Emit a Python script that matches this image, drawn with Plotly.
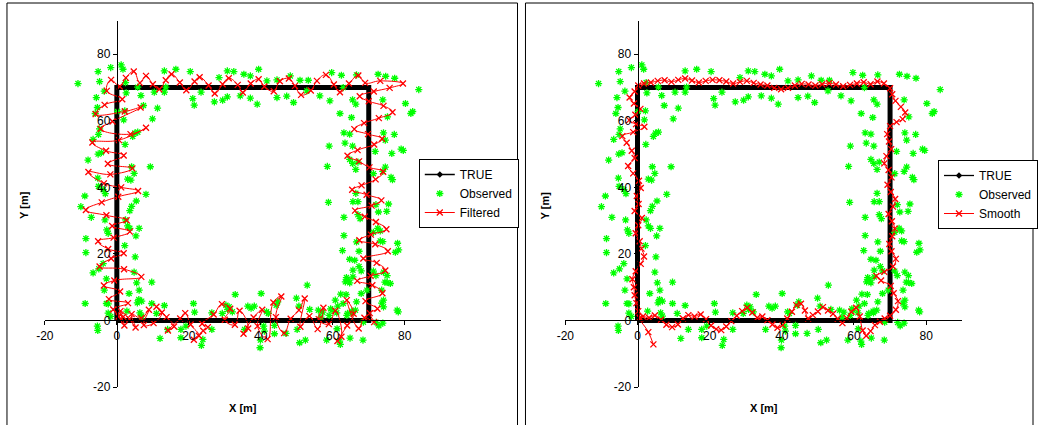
import plotly.graph_objects as go

# ---------------- data ----------------
TRUE_X = [0, 70, 70, 0, 0]
TRUE_Y = [0, 0, 70, 70, 0]

OBS_X = [
    -10.8, -5.2, -1.7, 1.2, 1.7, -4.8, 2.4, 13.2, 16.4, 20.4, 28.4, 30.7, 32.5, 35.3, 37.1, 39.4, 41.7, 44.5,
    48.2, 50.9, 53.2, 59.7, 62.4, 66.6, 72.6, 74.7, 77.2, 83.9, 80.2, 82.2, 73.9, 75.2, 62.9, 65.5, 66.4, 62.0,
    65.2, 59.2, 56.4, 52.8, 49.1, 47.2, 44.5, 39.0, 37.1, 34.3, 30.7, 29.4, 27.1, 23.4, 21.1, 21.5, 13.2, 13.6,
    10.4, 6.7, 7.4, 11.3, 9.9, 5.8, 2.6, -5.7, -5.4, -6.0, -3.5, 1.9, 2.2, 0.2,
    -6.6, -4.8, -5.1, -4.3, -5.2, -8.0, 2.3, 5.0, 5.8, 4.4, 9.3, 4.1, 4.8, 3.9, 3.0, -5.3, -5.1, -8.9, -10.0,
    -7.1, -3.2, -3.8, 5.4, 8.1, 4.1, 3.6, 2.4, 3.0, 3.6, 6.2, 5.3, -2.4, -2.8, -3.3, -8.6, -8.6, 2.2, 5.1,
    -3.8, -5.0, -6.6, 4.8, -2.9, 9.7, 5.5, 6.2, 3.4, -3.5, 6.1, 6.9, 5.7, 9.7, -2.9, -8.8, 13.2, -2.4, -1.7,
    -5.3,
    63.1, 64.7, 63.4, 59.0, 65.5, 74.1, 74.6, 77.1, 79.0, 76.4, 71.8, 64.7, 65.5, 67.0, 66.4, 58.5, 74.6, 73.9,
    76.2, 76.6, 71.3, 66.4, 67.0, 65.6, 58.8, 75.5, 75.0, 72.0, 72.7, 67.0, 67.6, 63.1, 72.5, 73.2, 71.3, 73.2,
    73.9, 63.1, 78.0, 77.4, 78.3, 62.7, 66.6, 67.3, 64.7, 66.1, 65.6, 67.9, 67.3, 71.3, 72.0, 75.1, 63.8, 64.3,
    64.7, 75.1, 76.0, 69.5, 73.6, 62.2, 74.1, 60.7, 61.4, 59.8, 66.3, 65.4, 77.9, 64.1, 72.1, 73.9, 72.8, 56.0,
    81.7, 79.6,
    -5.4, -2.4, 2.8, 6.4, 6.9, 11.0, 14.1, 17.8, 12.0, 21.3, 21.6, 19.2, 17.8, 26.4, 26.4, 23.9, 23.5, 30.3,
    31.2, 30.8, 32.1, 32.9, 29.3, 36.4, 38.2, 37.3, 35.5, 40.8, 41.0, 39.9, 40.1, 39.8, 41.6, 42.1, 43.8, 43.8,
    44.7, 44.3, 47.0, 49.9, 50.1, 50.6, 52.4, 50.8, 52.9, 53.6, 57.2, 56.7, 58.3, 59.4, 59.0, 61.1, 61.9, 62.1,
    61.2, 62.9, 63.7, 64.8, 63.5, 65.6, 65.3, 63.9, 68.5, 68.4, 73.6, 74.1, 78.2, 74.5, 74.1, 67.9, 66.6,
]
OBS_Y = [
    71.2, 74.8, 76.0, 76.8, 75.5, 71.8, 71.5, 75.0, 75.5, 74.8, 73.0, 75.0, 74.8, 74.0, 73.5, 75.5, 72.0, 72.3,
    73.5, 72.2, 72.2, 74.5, 73.7, 73.8, 74.0, 73.4, 72.8, 69.4, 65.2, 62.8, 66.3, 61.2, 70.0, 66.3, 65.0, 62.2,
    61.0, 66.0, 67.5, 69.0, 65.5, 67.4, 67.0, 65.0, 66.8, 67.5, 67.2, 66.2, 65.7, 68.6, 66.7, 64.7, 68.6, 70.1,
    68.6, 67.6, 64.6, 63.8, 60.6, 70.1, 68.4, 67.0, 64.0, 62.2, 68.9, 60.3, 63.0, 62.8,
    54.4, 57.6, 55.9, 50.4, 50.0, 48.2, 52.9, 56.3, 56.6, 55.3, 46.2, 46.2, 44.2, 42.2, 42.5, 42.8, 40.3, 37.4,
    34.2, 31.0, 38.1, 39.3, 35.9, 37.9, 34.3, 33.0, 30.2, 28.4, 27.7, 27.7, 25.4, 26.2, 27.2, 30.2, 24.6, 20.4,
    22.5, 19.1, 17.1, 15.5, 14.3, 14.5, 12.5, 11.5, 11.3, 9.1, 8.1, 9.1, 6.3, 5.8, 5.3, 5.1, 5.1, 5.1, 4.5, 2.2,
    1.2, -3.0,
    56.4, 56.0, 53.3, 52.4, 52.4, 56.4, 54.2, 55.9, 51.5, 50.2, 50.8, 48.4, 47.2, 47.6, 45.4, 46.3, 46.1, 44.8,
    43.0, 42.3, 44.1, 38.2, 35.7, 35.7, 35.5, 35.0, 32.8, 34.8, 32.6, 31.8, 30.6, 31.0, 27.7, 26.9, 26.5, 23.9,
    23.7, 25.5, 23.2, 20.5, 21.2, 21.0, 23.6, 20.8, 18.4, 18.1, 15.1, 14.9, 16.2, 14.8, 13.5, 13.5, 12.9, 12.1,
    11.3, 11.4, 11.1, 9.1, 9.1, 7.9, 6.1, 6.1, 4.3, 3.1, 3.1, 2.3, 3.1, 2.1, -0.6, -0.8, -1.6, 3.1,
    62.2, 51.1,
    -1.7, 5.0, 2.8, 2.3, 1.3, 2.1, -2.7, -5.2, -5.4, 5.1, 2.5, -1.7, -2.7, 2.3, -2.7, -5.7, -7.5, 4.6,
    4.1, 3.3, 2.6, 7.8, 2.1, 4.3, 4.3, 3.7, -2.7, -1.7, -3.2, -5.9, 8.1, -8.2, 2.6, 2.1, -1.5, -4.0,
    5.6, 4.6, -3.9, 6.7, -2.7, 4.3, -5.9, -6.7, 10.6, 3.3, 2.5, 1.0, -5.9, 3.5, 1.5, 2.3, -6.2, -7.2,
    -2.5, 5.1, 7.8, -5.3, 11.6, 13.1, 2.8, 1.5, -0.5, -5.9, 5.2, 4.1, 2.6, 11.5, 14.5, 8.1, 5.6,
]

FILT_X = [
    0.5, 2.1, 1.0, 3.5, 5.2, 4.1, 6.8, 8.9, 7.5, 10.2, 12.5, 11.0, 13.8, 15.9, 14.2, 17.6, 19.0, 20.5, 22.8,
    21.4, 24.0, 25.3, 23.7, 26.9, 29.2, 31.5, 30.0, 32.8, 34.1, 36.5, 35.2, 38.0, 40.4, 39.1, 41.9, 43.5, 45.7,
    44.2, 46.5, 48.3, 50.6, 52.2, 51.0, 53.5, 55.8, 57.4, 56.1, 58.9, 60.7, 62.4, 61.3, 64.0, 65.8, 63.9, 67.2,
    68.8, 71.5, 70.3,
    72.4, 69.1, 73.8, 71.0, 66.8, 70.5, 74.6, 72.2, 68.5, 75.3, 71.8, 67.4, 70.6, 74.9, 72.0, 68.9, 66.2, 70.8,
    73.5, 69.4, 65.4, 68.0, 71.9, 74.0, 70.2, 67.3, 64.1, 66.9, 71.5, 73.7, 69.8, 66.0, 68.7, 72.8, 76.6, 74.1,
    70.0, 67.5, 71.4, 75.8, 79.5, 73.2, 69.0,
    67.1, 64.5, 62.0, 60.3, 58.1, 55.6, 53.9, 51.2, 49.5, 47.8, 45.3, 43.6, 41.0, 39.4, 37.2, 35.0, 33.6, 31.1,
    29.4, 27.2, 25.5, 23.0, 21.6, 19.3, 17.5, 15.2, 13.6, 11.8, 10.0, 8.1, 6.4, 4.7, 2.5, 0.8, -1.6, -2.8,
    1.5, -3.4, -5.9, 2.2, 6.6, -1.2, -4.5, 3.8, 8.1, 0.6, -6.8, -3.0, 1.9, -2.5, 4.3, -1.8, -7.9, -3.6, 1.2,
    5.9, 0.4, -4.2, -8.6, -2.9, 2.7, -1.3, 3.6, -0.9, -5.2, -2.4, 1.9, -1.6, -4.8, 2.0, 6.8, -0.7, -3.6, 0.9,
    -2.2, 3.1, -1.0, 1.8,
]
FILT_Y = [
    1.2, -1.5, 2.8, 0.4, -2.1, 1.9, 0.7, 3.2, -1.4, -0.8, 2.4, 4.1, 1.0, -1.8, -3.0, 0.6, 2.2, -1.2, -4.6,
    -5.8, -3.1, -2.0, -1.0, 1.8, 4.9, 3.5, 0.2, -1.3, 2.9, -2.4, -4.0, 0.9, 3.2, -1.7, -5.6, 5.4, 7.2,
    1.0, -3.8, 0.5, 3.1, 6.6, -1.9, 1.3, -2.6, 3.8, 0.4, -1.1, 2.9, -4.9, -6.2, -1.5, 2.0, 6.1, -2.4,
    0.8, -0.5, 2.2,
    3.5, 5.8, 8.2, 10.6, 11.9, 13.4, 15.0, 17.3, 18.6, 20.8, 22.9, 24.1, 25.8, 27.4, 29.6, 31.2, 33.0, 34.5,
    36.1, 37.8, 39.3, 40.6, 42.4, 44.7, 46.0, 47.8, 49.5, 51.2, 52.9, 54.6, 56.0, 57.5, 59.3, 60.8, 62.6, 64.5,
    65.9, 67.4, 68.8, 69.9, 71.2, 72.0, 71.4,
    73.6, 71.2, 68.6, 70.9, 73.8, 72.0, 69.1, 67.8, 70.5, 72.7, 71.9, 68.9, 70.3, 72.5, 71.2, 68.5, 70.8, 72.8,
    71.0, 68.2, 70.6, 73.1, 71.8, 69.2, 71.5, 74.0, 72.2, 69.5, 71.0, 73.5, 71.4, 74.8, 72.9, 70.3, 72.3, 69.0,
    66.5, 64.8, 62.0, 62.8, 64.0, 59.8, 57.6, 56.0, 57.9, 54.2, 53.5, 51.0, 49.6, 47.1, 45.7, 43.9, 44.6, 41.2,
    40.0, 38.9, 37.2, 35.5, 33.2, 31.6, 30.1, 28.4, 26.7, 24.9, 23.8, 21.5, 20.2, 18.6, 16.2, 15.4, 13.1, 12.0,
    10.5, 8.7, 6.4, 5.2, 3.3, 1.1,
]

SMOOTH_X = [
    4.4, 3.0, 0.8, 1.5, 3.2, 4.8, 6.5, 8.0, 9.6, 11.2, 12.6, 14.1, 15.8, 17.5, 19.0, 20.4, 21.8, 23.2, 24.6,
    26.0, 27.5, 29.0, 30.4, 31.8, 33.2, 34.6, 36.0, 37.4, 38.8, 40.2, 41.5, 42.8, 44.0, 45.3, 46.4, 47.3, 48.6,
    50.0, 51.4, 52.8, 54.2, 55.5, 56.8, 58.0, 59.3, 60.6, 61.6, 62.4, 63.4, 64.6, 65.8, 67.2, 68.5, 70.0,
    71.6, 72.2, 71.0, 70.2, 67.5, 66.2, 68.4, 70.8, 71.6, 70.4, 69.8, 70.6, 71.3, 70.5, 69.6, 70.8, 71.4, 70.2,
    69.3, 70.4, 69.6, 68.4, 69.0, 70.3, 69.7, 69.2, 70.0, 71.8, 73.5, 74.2, 73.0, 71.5, 70.6, 70.0,
    68.3, 66.5, 64.6, 62.7, 60.8, 58.9, 57.0, 55.0, 53.1, 51.2, 49.3, 47.4, 45.5, 43.6, 41.7, 39.8, 37.9, 36.0,
    34.1, 32.2, 30.3, 28.4, 26.5, 24.6, 22.7, 20.8, 18.9, 17.0, 15.1, 13.2, 11.3, 9.4, 7.5, 5.6, 3.7, 1.8, 0.2,
    -0.8, -2.2, -1.0, 0.8, -0.6, -2.3, -0.4, 1.9, -1.2, -4.2, -3.0, -1.6, -0.8, -2.6, -1.2, 0.4, 0.9, -0.2,
    0.3, -0.8, 1.2, 0.2, -0.5, 0.6, 1.1, 1.8, 0.9, -0.5, -1.4, -1.0, -0.8, -0.3, 0.2, 0.6,
]
SMOOTH_Y = [
    -7.2, -3.5, 0.6, 1.2, 0.8, 1.5, 0.2, -1.3, -2.0, -1.2, 0.6, 1.6, 1.2, 1.8, 0.4, -1.5, -2.6, -2.9, -1.8,
    -0.2, 1.4, 2.8, 3.8, 2.4, 0.8, 1.2, 0.1, -1.2, -2.2, -1.4, 0.6, 2.6, 4.6, 5.0, 3.0, 0.6, 1.6,
    2.7, 4.0, 3.0, 2.0, 0.5, -0.8, 0.7, 2.6, 3.8, 1.2, -3.0, -4.6, -3.2, -1.4, -0.4, 0.6, 1.4,
    3.2, 5.8, 8.2, 10.4, 12.0, 13.4, 14.6, 16.2, 18.5, 20.8, 23.0, 25.3, 27.6, 29.8, 32.0, 34.2, 36.5, 38.6,
    40.8, 43.0, 45.2, 47.2, 49.4, 51.5, 53.8, 56.0, 58.4, 59.6, 60.5, 62.5, 64.2, 66.0, 68.0, 69.8,
    71.2, 71.8, 71.0, 71.6, 71.2, 70.8, 70.4, 70.9, 71.3, 71.0, 70.6, 70.9, 71.1, 70.6, 69.9, 69.5, 69.9, 70.6,
    70.9, 71.4, 72.0, 71.7, 71.2, 71.8, 72.2, 72.3, 72.0, 71.5, 72.1, 72.7, 72.3, 71.7, 72.2, 72.0, 71.5, 71.2,
    70.6,
    68.8, 67.0, 65.2, 63.6, 61.8, 60.2, 59.0, 58.2, 56.6, 55.4, 53.4, 51.0, 48.8, 46.4, 44.2, 42.0, 39.8, 37.4,
    35.0, 32.9, 30.8, 28.6, 26.2, 23.8, 21.6, 19.2, 17.0, 14.8, 12.4, 10.0, 7.6, 5.2, 2.8, 0.8,
]

AX_RANGE = [-20, 90]
TICK_VALS = [-20, 0, 20, 40, 60, 80]
TICK_TEXT = ["-20", "0", "20", "40", "60", "80"]

# ---------------- layout geometry ----------------
W, H = 1038, 425
FONT = "Liberation Sans, Arial, sans-serif"
XDOM = [[45 / W, 442 / W], [567 / W, 965 / W]]
YDOM = [(H - 387) / H, (H - 21) / H]


def cross_pos(dom, rng):
    return dom[0] + (0 - rng[0]) / (rng[1] - rng[0]) * (dom[1] - dom[0])


fig = go.Figure()

panels = [("Filtered", FILT_X, FILT_Y, "legend"), ("Smooth", SMOOTH_X, SMOOTH_Y, "legend2")]
for i, (name, sx, sy, leg) in enumerate(panels):
    xa = "x" if i == 0 else "x2"
    ya = "y" if i == 0 else "y2"
    fig.add_trace(go.Scatter(x=[None], y=[None], mode="lines+markers", name="TRUE",
                             line=dict(color="black", width=1.3),
                             marker=dict(symbol="diamond", size=5, color="black"),
                             xaxis=xa, yaxis=ya, legend=leg, showlegend=True))
    fig.add_trace(go.Scatter(x=TRUE_X, y=TRUE_Y, mode="lines", name="TRUE",
                             line=dict(color="black", width=5),
                             xaxis=xa, yaxis=ya, legend=leg, showlegend=False))
    fig.add_trace(go.Scatter(x=OBS_X, y=OBS_Y, mode="markers", name="Observed",
                             marker=dict(symbol="asterisk-open", size=6, color="#00FF00",
                                         line=dict(color="#00FF00", width=1.3)),
                             xaxis=xa, yaxis=ya, legend=leg))
    fig.add_trace(go.Scatter(x=sx, y=sy, mode="lines+markers", name=name,
                             line=dict(color="#FF0000", width=1, shape="spline", smoothing=1.3),
                             marker=dict(symbol="x-thin-open", size=6, color="#FF0000",
                                         line=dict(color="#FF0000", width=1.3)),
                             xaxis=xa, yaxis=ya, legend=leg))

layout = dict(
    template="none",
    width=W, height=H, margin=dict(l=0, r=0, t=0, b=0, pad=0), autosize=False,
    paper_bgcolor="white", plot_bgcolor="white",
    font=dict(family=FONT, size=12, color="black"),
)

common = dict(range=AX_RANGE, autorange=False, tickvals=TICK_VALS, ticktext=TICK_TEXT, showgrid=False,
              zeroline=False, showline=True, linecolor="black", linewidth=1, automargin=False,
              ticks="outside", ticklen=4, tickcolor="black", tickwidth=1,
              tickfont=dict(family=FONT, size=12, color="black"), anchor="free")
inner = dict(range=AX_RANGE, autorange=False, tickvals=TICK_VALS, showgrid=False, zeroline=False,
             showline=False, ticks="inside", ticklen=4, tickcolor="black", tickwidth=1, automargin=False,
             showticklabels=False, anchor="free")

xpos_y = cross_pos(YDOM, AX_RANGE)
for i in range(2):
    sfx = "" if i == 0 else "2"
    ypos_x = cross_pos(XDOM[i], AX_RANGE)
    layout["xaxis" + sfx] = dict(common, domain=XDOM[i], position=xpos_y)
    layout["yaxis" + sfx] = dict(common, domain=YDOM, position=ypos_x)
    layout["xaxis" + str(i + 3)] = dict(inner, overlaying="x" + sfx, position=xpos_y)
    layout["yaxis" + str(i + 3)] = dict(inner, overlaying="y" + sfx, position=ypos_x)

legend_common = dict(bgcolor="white", bordercolor="black", borderwidth=1,
                     font=dict(family=FONT, size=12, color="black"),
                     xanchor="left", yanchor="top", tracegroupgap=0, itemwidth=30)
layout["legend"] = dict(legend_common, x=420 / W, y=(H - 159) / H)
layout["legend2"] = dict(legend_common, x=941 / W, y=(H - 160) / H)

layout["shapes"] = [
    dict(type="rect", xref="paper", yref="paper", x0=7 / W, x1=519 / W, y0=-0.01, y1=(H - 3) / H,
         line=dict(color="black", width=1)),
    dict(type="rect", xref="paper", yref="paper", x0=527 / W, x1=1036 / W, y0=-0.01, y1=(H - 3) / H,
         line=dict(color="black", width=1)),
]

ann = []
for i in range(2):
    ann.append(dict(text="<b>X [m]</b>", xref="paper", yref="paper", xanchor="center", yanchor="middle",
                    x=(XDOM[i][0] + XDOM[i][1]) / 2, y=(H - 408) / H, showarrow=False,
                    font=dict(family=FONT, size=11, color="black")))
for px in (24, 547):
    ann.append(dict(text="<b>Y [m]</b>", xref="paper", yref="paper", x=px / W, y=(H - 205) / H,
                    xanchor="center", yanchor="middle", textangle=-90, showarrow=False,
                    font=dict(family=FONT, size=11, color="black")))
layout["annotations"] = ann

fig.update_layout(**layout)
fig.write_html("out.html")
